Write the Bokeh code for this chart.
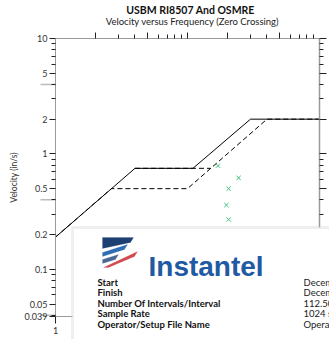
import math
from bokeh.plotting import figure
from bokeh.models import (LogAxis, FixedTicker, Label, BoxAnnotation,
                          PolyAnnotation, Range1d, LogScale)
from bokeh.embed import file_html
from bokeh.resources import INLINE

# ---------------- data ----------------
osmre_freq = [1, 4, 11, 30, 100]
osmre_vel = [0.19, 0.75, 0.75, 2.0, 2.0]
usbm_freq = [1, 2.65, 10, 40, 100]
usbm_vel = [0.19, 0.5, 0.5, 2.0, 2.0]
usbm_drywall_freq = [4, 15]
usbm_drywall_vel = [0.75, 0.75]
peak_freq = [17.0, 24.4, 20.5, 19.7, 20.5]
peak_vel = [0.79, 0.62, 0.50, 0.36, 0.27]

y_major = [0.039, 0.05, 0.1, 0.2, 0.5, 1, 2, 5, 10]
y_labels = ["0.039", "0.05", "0.1", "0.2", "0.5", "1", "2", "5", "10"]
y_minor = [0.04, 0.06, 0.07, 0.08, 0.09, 0.3, 0.4, 0.6, 0.7, 0.8, 0.9,
           3, 4, 6, 7, 8, 9]
y_long = [0.04, 0.4, 4]
x_bottom = [1]
x_bottom_labels = ["1"]
x_major = [2, 5, 10, 20, 50]
x_minor = [3, 4, 6, 7, 8, 9, 30, 40, 60, 70, 80, 90]
X_LO, X_HI = 1, 100
Y_LO, Y_HI = 0.039, 10

info_keys = ["Start", "Finish", "Number Of Intervals/Interval", "Sample Rate",
             "Operator/Setup File Name"]
info_vals = ["December 14, 2023 08:00:00", "December 14, 2023 17:00:00",
             "112.50 Hours", "1024 sps", "Operator / Default Setup"]

FONT = "Lato"
AX = "#9a9a9a"
TXT = "#333333"
TICK = "#222222"

W, H = 329, 339
# pixel frame of the plotting area (left, right, top, bottom)
FL, FR, FT, FB = 55, 319, 38, 316
ppd_x = (FR - FL) / math.log10(X_HI / X_LO)
ppd_y = (FB - FT) / math.log10(Y_HI / Y_LO)
x_range = Range1d(X_LO / 10 ** (FL / ppd_x), X_HI * 10 ** ((W - FR) / ppd_x))
y_range = Range1d(Y_LO / 10 ** ((H - FB) / ppd_y), Y_HI * 10 ** (FT / ppd_y))

p = figure(width=W, height=H, x_axis_type=None, y_axis_type=None,
           x_range=x_range, y_range=y_range,
           output_backend="svg", toolbar_location=None,
           min_border_left=0, min_border_right=0, min_border_top=0,
           min_border_bottom=0)
p.x_scale = LogScale()
p.y_scale = LogScale()
p.outline_line_color = None
p.grid.visible = False
p.background_fill_color = "white"
p.border_fill_color = "white"


def blank(ticks):
    return {v: "" for v in ticks}


# left axis
la = LogAxis(ticker=FixedTicker(ticks=y_major, minor_ticks=y_minor),
             fixed_location=X_LO, bounds=(Y_LO, Y_HI),
             major_label_overrides={v: s for v, s in zip(y_major, y_labels)},
             major_label_text_font=FONT, major_label_text_font_size="9px",
             major_label_text_color=TXT, major_label_standoff=2,
             major_tick_out=6, major_tick_in=0, minor_tick_out=4,
             minor_tick_in=0, axis_line_color=AX,
             major_tick_line_color=TICK, minor_tick_line_color=TICK)
p.add_layout(la, "left")

# bottom axis
ba = LogAxis(ticker=FixedTicker(ticks=x_bottom, minor_ticks=[]),
             fixed_location=Y_LO, bounds=(X_LO, X_HI),
             major_label_overrides={v: s for v, s in zip(x_bottom, x_bottom_labels)},
             major_label_text_font=FONT, major_label_text_font_size="9px",
             major_label_text_color=TXT, major_label_standoff=3,
             major_tick_out=7, major_tick_in=0, axis_line_color=AX,
             major_tick_line_color=TICK)
p.add_layout(ba, "below")

# top axis (ticks only)
ta = LogAxis(ticker=FixedTicker(ticks=x_major, minor_ticks=x_minor),
             fixed_location=Y_HI, bounds=(X_LO, X_HI),
             major_label_overrides=blank(x_major), major_label_standoff=0,
             major_tick_out=6, major_tick_in=0, minor_tick_out=4,
             minor_tick_in=0, axis_line_color=AX,
             major_tick_line_color=TICK, minor_tick_line_color=TICK)
p.add_layout(ta, "above")

# right axis (ticks only)
ra = LogAxis(ticker=FixedTicker(ticks=y_major[1:], minor_ticks=y_minor),
             fixed_location=X_HI, bounds=(Y_LO, Y_HI),
             major_label_overrides=blank(y_major[1:]), major_label_standoff=0,
             major_tick_out=7, major_tick_in=0, minor_tick_out=4,
             minor_tick_in=0, axis_line_color=AX, axis_line_width=1.5,
             major_tick_line_color=TICK, minor_tick_line_color=TICK)
p.add_layout(ra, "right")

# long ticks on left axis
for v in y_long:
    p.add_layout(PolyAnnotation(xs=[40, FL, FL, 40], ys=[v, v, v, v],
                                xs_units="canvas", ys_units="data",
                                line_color=TICK, line_width=1.5,
                                fill_alpha=0))

# y axis title
p.add_layout(Label(x=13, y=(FT + FB) / 2, x_units="canvas", y_units="canvas",
                   text="Velocity (in/s)", angle=math.pi / 2,
                   text_font=FONT, text_font_size="8.5px", text_color=TXT,
                   text_align="center", text_baseline="middle"))

# curves
p.line(osmre_freq, osmre_vel, line_color="black", line_width=1)
p.line(usbm_freq, usbm_vel, line_color="black", line_width=1, line_dash="5 3")
p.line(usbm_drywall_freq, usbm_drywall_vel, line_color="black", line_width=1,
       line_dash="5 3")
p.scatter(peak_freq, peak_vel, marker="x", size=6, line_color="#3cc47c",
          line_width=1)

# titles
p.add_layout(Label(x=190, y=9, x_units="canvas", y_units="canvas",
                   text="USBM RI8507 And OSMRE", text_font=FONT,
                   text_font_size="10.5px", text_font_style="bold",
                   text_color="#111111", text_align="center",
                   text_baseline="middle"))
p.add_layout(Label(x=192, y=21, x_units="canvas", y_units="canvas",
                   text="Velocity versus Frequency (Zero Crossing)",
                   text_font=FONT, text_font_size="9.5px",
                   text_color="#222222", text_align="center",
                   text_baseline="middle"))

# info box
p.add_layout(BoxAnnotation(left=72, right=W + 20, top=227, bottom=H + 20,
                           left_units="canvas", right_units="canvas",
                           top_units="canvas", bottom_units="canvas",
                           fill_color="white", fill_alpha=1,
                           line_color="#cdc9c4", line_width=3,
                           level="overlay"))

# logo icon
logo_polys = [
    ([102, 133, 130, 102], [237, 237, 242, 248], "#1d3f72"),
    ([102, 127, 124, 102], [252, 244, 249, 256], "#2f6db3"),
    ([102, 118, 115, 102], [259, 254, 259, 263], "#4a6a95"),
    ([103, 137, 134, 108], [267, 251, 256, 267], "#d2494f"),
]
for xs, ys, c in logo_polys:
    p.add_layout(PolyAnnotation(xs=xs, ys=ys, xs_units="canvas",
                                ys_units="canvas", fill_color=c, fill_alpha=1,
                                line_color=c, line_width=0.5, level="overlay"))
p.add_layout(Label(x=148, y=266, x_units="canvas", y_units="canvas",
                   text="Instantel", text_font="Liberation Sans",
                   text_font_size="28px", text_font_style="bold",
                   text_color="#1f5aa3", text_baseline="alphabetic",
                   level="overlay"))

row_y = [282, 292.4, 302.8, 313.2, 323.6]
for k, v, yy in zip(info_keys, info_vals, row_y):
    p.add_layout(Label(x=97, y=yy, x_units="canvas", y_units="canvas",
                       text=k, text_font=FONT, text_font_size="9.5px",
                       text_font_style="bold", text_color="#111111",
                       text_baseline="middle", level="overlay"))
    p.add_layout(Label(x=303, y=yy, x_units="canvas", y_units="canvas",
                       text=v, text_font=FONT, text_font_size="9.5px",
                       text_color="#222222", text_baseline="middle",
                       level="overlay"))

open("out.html", "w").write(file_html(p, INLINE))
